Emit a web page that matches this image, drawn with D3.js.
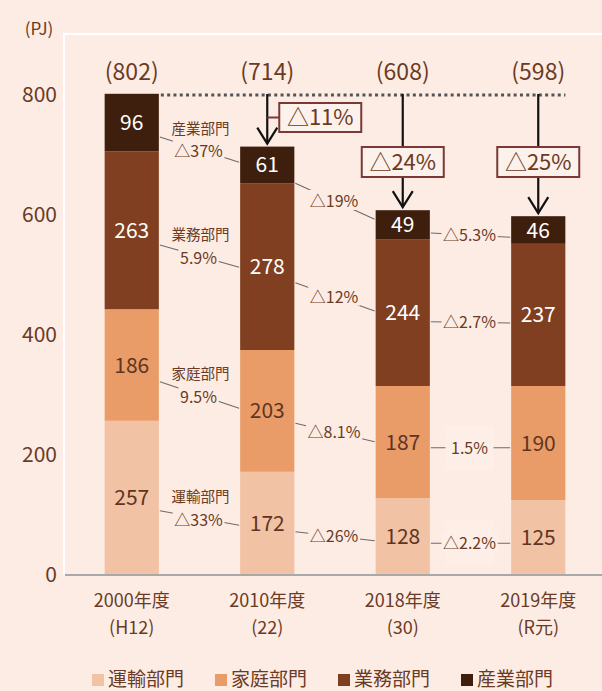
<!DOCTYPE html>
<html><head><meta charset="utf-8">
<script src="https://cdn.jsdelivr.net/npm/d3@7"></script>
<style>
html,body{margin:0;padding:0;background:#fdece4;}
svg{display:block;font-family:"Noto Sans CJK JP","Noto Sans",sans-serif;}
</style></head>
<body>
<svg id="chart" width="602" height="691"></svg>
<script>
const categories = ["2000年度","2010年度","2018年度","2019年度"];
const categorySub = ["(H12)","(22)","(30)","(R元)"];
const seriesNames = ["運輸部門","家庭部門","業務部門","産業部門"];
const transport = [257,172,128,125];
const household = [186,203,187,190];
const business = [263,278,244,237];
const industry = [96,61,49,46];
const totals = [802,714,608,598];
const yTicks = [0,200,400,600,800];
const totalChange = ["△11%","△24%","△25%"];
const changes12 = ["△33%","9.5%","5.9%","△37%"];
const changes23 = ["△26%","△8.1%","△12%","△19%"];
const changes34 = ["△2.2%","1.5%","△2.7%","△5.3%"];
// connector anchor levels (in PJ units) at left / right bar edges
const anchorL12 = [107,322,550,730], anchorR12 = [83,278,513,688];
const anchorL23 = [72,253,487,653],  anchorR23 = [57,222,440,593];
const anchorL34 = [53,212,422,570],  anchorR34 = [53,212,420,563];

const colors = ["#f2c2a5","#e99c68","#7f3f20","#3e1f0e"];
const labelColors = ["#5e3522","#5e3522","#ffffff","#ffffff"];
const textColor = "#6a3b24";
const bg = "#fdece4";

const svg = d3.select("#chart");
svg.append("rect").attr("width",602).attr("height",691).attr("fill",bg);

const x = d3.scaleBand().domain(categories).range([64,606]).paddingInner(0.6).paddingOuter(0.3);
const y = d3.scaleLinear().domain([0,800]).range([575,95]);

// plot frame (white)
svg.append("line").attr("x1",64).attr("x2",64).attr("y1",33).attr("y2",575).attr("stroke","#fff").attr("stroke-width",2);
svg.append("line").attr("x1",63).attr("x2",602).attr("y1",34).attr("y2",34).attr("stroke","#fff").attr("stroke-width",2);

// y axis labels
const yAxis = d3.axisLeft(y).tickValues(yTicks).tickSize(0).tickPadding(0);
const gy = svg.append("g").attr("transform","translate(57,0)").call(yAxis);
gy.select(".domain").remove();
gy.selectAll("text").attr("fill",textColor).attr("font-size",21).attr("font-family","Noto Sans CJK JP");
svg.append("text").attr("x",39).attr("y",35).attr("text-anchor","middle").attr("fill",textColor).attr("font-size",17).text("(PJ)");

// stacked data
const rows = categories.map((c,i)=>({cat:c, 運輸部門:transport[i], 家庭部門:household[i], 業務部門:business[i], 産業部門:industry[i]}));
const stacked = d3.stack().keys(seriesNames)(rows);

const gBars = svg.append("g");
stacked.forEach((layer,si)=>{
  const g = gBars.append("g");
  g.selectAll("rect").data(layer).join("rect")
    .attr("x",d=>x(d.data.cat)).attr("width",x.bandwidth())
    .attr("y",d=>y(d[1])).attr("height",d=>y(d[0])-y(d[1]))
    .attr("fill",colors[si]);
  g.selectAll("text").data(layer).join("text")
    .attr("x",d=>x(d.data.cat)+x.bandwidth()/2)
    .attr("y",d=>(y(d[0])+y(d[1]))/2).attr("dy","0.36em")
    .attr("text-anchor","middle").attr("font-size",21)
    .attr("fill",labelColors[si])
    .text(d=>d[1]-d[0]);
});

// x axis line
svg.append("line").attr("x1",65).attr("x2",602).attr("y1",575).attr("y2",575).attr("stroke","#a9a9a9").attr("stroke-width",2);

// category labels
const gx = svg.append("g");
categories.forEach((c,i)=>{
  const cx = x(c)+x.bandwidth()/2;
  gx.append("text").attr("x",cx).attr("y",601).attr("dy","0.36em").attr("text-anchor","middle").attr("font-size",18).attr("fill",textColor).text(c);
  gx.append("text").attr("x",cx).attr("y",627.3).attr("dy","0.36em").attr("text-anchor","middle").attr("font-size",18).attr("fill",textColor).text(categorySub[i]);
});

// totals (aligned on one row)
categories.forEach((c,i)=>{
  svg.append("text").attr("x",x(c)+x.bandwidth()/2).attr("y",80)
    .attr("text-anchor","middle").attr("font-size",23).attr("fill",textColor).text("("+totals[i]+")");
});

// dotted reference line at 2000 total
svg.append("line").attr("x1",x(categories[0])+x.bandwidth()+2).attr("x2",x(categories[3])+x.bandwidth())
  .attr("y1",y(800)).attr("y2",y(800)).attr("stroke","#555").attr("stroke-width",3).attr("stroke-dasharray","3,3.3");

// arrows + boxes
const boxStroke = "#7b3836", boxFill = "#fdf1eb";
[1,2,3].forEach((ci,k)=>{
  const cx = x(categories[ci])+x.bandwidth()/2;
  const tip = y(totals[ci])-3;
  svg.append("line").attr("x1",cx).attr("x2",cx).attr("y1",y(800)-1).attr("y2",tip).attr("stroke","#111").attr("stroke-width",2.2);
  svg.append("path").attr("d",`M${cx-10},${tip-16}L${cx},${tip}L${cx+10},${tip-16}`).attr("fill","none").attr("stroke","#111").attr("stroke-width",2.2);
  let bx, by, bw=82, bh=29;
  if(ci===1){
    bx = cx+12; by = 103;
    svg.append("line").attr("x1",cx).attr("x2",bx).attr("y1",by+bh/2).attr("y2",by+bh/2).attr("stroke",boxStroke).attr("stroke-width",2);
  } else {
    bx = cx-41; by = 147; bh=30;
  }
  svg.append("rect").attr("x",bx).attr("y",by).attr("width",bw).attr("height",bh).attr("fill",boxFill).attr("stroke",boxStroke).attr("stroke-width",2);
  svg.append("text").attr("x",bx+bw/2).attr("y",by+bh/2).attr("dy","0.36em").attr("text-anchor","middle")
    .attr("font-size",22).attr("fill",textColor).text(totalChange[k]);
});

// change connectors
function drawPair(i, labels, aL, aR, showNames, lightBox){
  const x1 = x(categories[i])+x.bandwidth()+1;
  const x2 = x(categories[i+1])-1;
  labels.forEach((lab,si)=>{
    const y1 = y(aL[si]), y2 = y(aR[si]);
    const g = svg.append("g");
    g.append("line").attr("x1",x1).attr("x2",x2).attr("y1",y1).attr("y2",y2).attr("stroke","#6d6a6a").attr("stroke-width",1.1);
    const mx = (x1+x2)/2 - 1, my = (y1+y2)/2 + (i===0?2:0);
    const fillC = lightBox && si<2 ? "#fdefe8" : bg;
    if(lightBox && si<2){
      g.append("rect").attr("x",mx-24).attr("y",my-22).attr("width",48).attr("height",44).attr("fill",fillC);
    }
    const mask = g.append("rect").attr("fill", fillC);
    const t = g.append("text").attr("x",mx).attr("y",my).attr("dy","0.36em").attr("text-anchor","middle")
      .attr("font-size",16).attr("fill",textColor).text(lab);
    const bb = t.node().getBBox();
    mask.attr("x",bb.x-1.5).attr("y",bb.y+2).attr("width",bb.width+3).attr("height",bb.height-4);
    if(showNames){
      g.append("text").attr("x",mx+2).attr("y",my-23).attr("dy","0.36em").attr("text-anchor","middle")
        .attr("font-size",14.5).attr("fill",textColor).text(seriesNames[si]);
    }
  });
}
drawPair(0, changes12, anchorL12, anchorR12, true, false);
drawPair(1, changes23, anchorL23, anchorR23, false, false);
drawPair(2, changes34, anchorL34, anchorR34, false, true);

// legend
const lg = svg.append("g");
seriesNames.forEach((n,i)=>{
  const lx = 92 + i*123;
  lg.append("rect").attr("x",lx).attr("y",674).attr("width",12).attr("height",12).attr("fill",colors[i]);
  lg.append("text").attr("x",lx+16).attr("y",679).attr("dy","0.36em").attr("font-size",19).attr("fill",textColor).text(n);
});
</script>
</body></html>
